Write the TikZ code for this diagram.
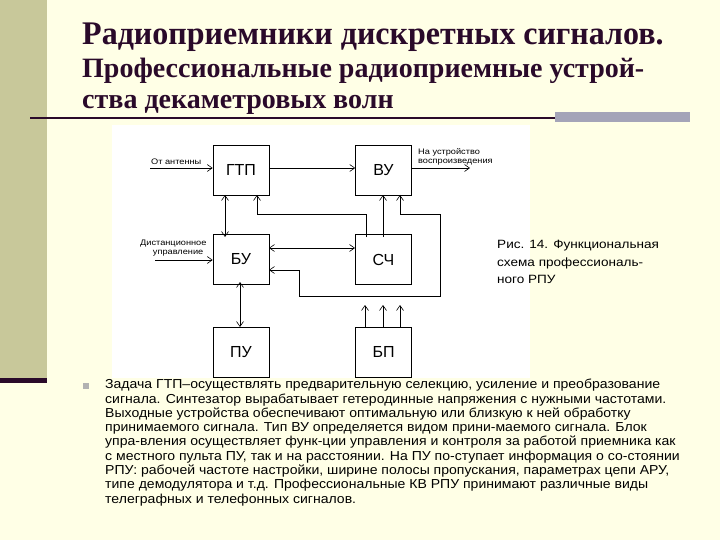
\documentclass[tikz,border=0pt]{standalone}
\usepackage{fontspec}
\setmainfont{Liberation Serif}
\newfontfamily\ar{Liberation Sans}
\usetikzlibrary{arrows.meta}
\definecolor{bg}{HTML}{FFFFE6}
\definecolor{band}{HTML}{C8C89A}
\definecolor{ttl}{HTML}{2A0A2A}
\definecolor{gbar}{HTML}{A4A4B8}
\begin{document}
\begin{tikzpicture}[x=1pt,y=-1pt,
 blk/.style={draw,line width=0.6pt,minimum width=56pt,minimum height=50pt,inner sep=0pt,font=\ar\fontsize{16}{16}\selectfont},
 ln/.style={line width=0.6pt,-{Straight Barb[length=5pt,width=7pt]}},
 bl/.style={line width=0.6pt,{Straight Barb[length=5pt,width=7pt]}-{Straight Barb[length=5pt,width=7pt]}},
 sm/.style={font=\ar\fontsize{8}{8.5}\selectfont,align=left,inner sep=0pt}]
\useasboundingbox (0,0) rectangle (720,540);
\fill[bg] (0,0) rectangle (720,540);
\fill[band] (0,0) rectangle (47,380);
\fill[ttl] (0,378) rectangle (47,383);
\fill[white] (112,125) rectangle (530,378);
\fill[gbar] (555,112) rectangle (690,122);
\fill[ttl] (30,117) rectangle (555,119);
\node[anchor=base west,inner sep=0pt,text=ttl] (t1) at (82,45) {\scalebox{0.97}[1]{\fontsize{33}{33}\selectfont\bfseries Радиоприемники дискретных сигналов.}};
\node[anchor=base west,inner sep=0pt,text=ttl] (t2) at (82,78) {\scalebox{1.0}[1]{\fontsize{28}{28}\selectfont\bfseries Профессиональные радиоприемные устрой-}};
\node[anchor=base west,inner sep=0pt,text=ttl] (t3) at (82,109) {\scalebox{1.0}[1]{\fontsize{28}{28}\selectfont\bfseries ства декаметровых волн}};
% blocks
\node[blk] (gtp) at (241,170) {ГТП};
\node[blk] (vu) at (383.5,170) {ВУ};
\node[blk] (bu) at (241,259.5) {БУ};
\node[blk] (sch) at (383.5,259.5) {СЧ};
\node[blk] (pu) at (241,352) {ПУ};
\node[blk] (bp) at (383.5,352) {БП};
\coordinate (ant) at (150,168);
\coordinate (dist) at (155,260);
\coordinate (out) at (470,168);
\draw[ln] (ant) -- (gtp.west|-ant);
\node[sm,anchor=south west] (la) at (151,165) {\scalebox{1.15}[1]{От антенны}};
\draw[ln] (gtp.east|-ant) -- (vu.west|-ant);
\draw[ln] (vu.east|-ant) -- (out);
\node[sm,anchor=south west] (lb) at (418,165) {\scalebox{1.15}[1]{\shortstack[l]{На устройство\\воспроизведения}}};
\draw[ln] (dist) -- (bu.west|-dist);
\node[sm,anchor=south west] (lc) at (140,256) {\scalebox{1.15}[1]{\shortstack[l]{Дистанционное\\\ \ \ \ \ управление}}};
\draw[bl] (225,195) -- (225,237);
\draw[bl] (240,282) -- (240,327);
\draw[bl] (269,248) -- (355,248);
\draw[ln] (366,237) -- (366,214) -- (257,214) -- (257,195);
\draw[ln] (383,237) -- (383,195);
\draw[bl] (400,195) -- (400,214) -- (440,214) -- (440,296) -- (299,296) -- (299,270) -- (269,270);
\foreach \x in {365,383,400} \draw[ln] (\x,327) -- (\x,305);
\node[sm,font=\ar\fontsize{12}{17.5}\selectfont,anchor=north west] (cap) at (497,240) {\scalebox{1.13}[1]{\parbox[t]{200pt}{Рис. 14. Функциональная\\схема профессиональ-\\ного РПУ}}};
\fill[gray!60] (83,383) rectangle (89,389);
\node[anchor=north west,inner sep=0pt,align=left,font=\ar\fontsize{13}{14.3}\selectfont] (body) at (105,379) {\scalebox{1.08}[1]{\parbox[t]{700pt}{Задача ГТП–осуществлять предварительную селекцию, усиление и преобразование\\
сигнала. Синтезатор вырабатывает гетеродинные напряжения с нужными частотами.\\
Выходные устройства обеспечивают оптимальную или близкую к ней обработку\\
принимаемого сигнала. Тип ВУ определяется видом прини-маемого сигнала. Блок\\
упра-вления осуществляет функ-ции управления и контроля за работой приемника как\\
с местного пульта ПУ, так и на расстоянии. На ПУ по-ступает информация о со-стоянии\\
РПУ: рабочей частоте настройки, ширине полосы пропускания, параметрах цепи АРУ,\\
типе демодулятора и т.д. Профессиональные КВ РПУ принимают различные виды\\
телеграфных и телефонных сигналов.}}};
\end{tikzpicture}
\end{document}
